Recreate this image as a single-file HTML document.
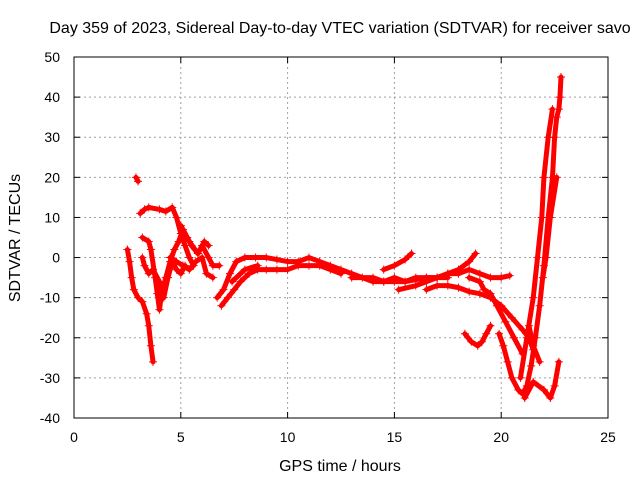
<!DOCTYPE html>
<html><head><meta charset="utf-8"><style>
body{margin:0;background:#fff}
svg text{font-family:"Liberation Sans",sans-serif;font-size:14px;fill:#000}
svg text.big{font-size:16px}
</style></head><body>
<svg id="chart" width="640" height="480" xmlns="http://www.w3.org/2000/svg">
<text class="big" x="340" y="33" text-anchor="middle">Day 359 of 2023, Sidereal Day-to-day VTEC variation (SDTVAR) for receiver savo</text>
<text class="big" x="340" y="471" text-anchor="middle">GPS time / hours</text>
<text class="big" transform="translate(20,238) rotate(-90)" text-anchor="middle">SDTVAR / TECUs</text>
<g id="grid"></g><g id="ticks"></g><g id="marks"></g>
<rect x="74" y="57" width="534" height="361" fill="none" stroke="#000"/>
</svg>
<script>
const xTicks=[0,5,10,15,20,25];
const yTicks=[50,40,30,20,10,0,-10,-20,-30,-40];
const trackNames=["t1","t2","t3","t4","t5","t6","t7","t8","t9","t10","t11","t12","t13","t14","t15","t16","t17","t18","t19","t20","t21","t22"];
const trackTimes=[
[2.5,2.6,2.7,2.8,3.0,3.2,3.4,3.5,3.6,3.7],
[2.9,3.0],
[3.1,3.3,3.5,4.0,4.3,4.6,4.8,5.0,5.2,5.4,5.6],
[3.2,3.5,3.6,3.8,3.9,4.0,4.1,4.3,4.5,4.7,4.9,5.1,5.3,5.5,5.8,6.0,6.3,6.5,6.8],
[3.2,3.3,3.5,3.7,4.0,4.2,4.4,4.6,4.8,5.0,5.2],
[4.5,4.8,5.1,5.4,5.7,6.0,6.2,6.5],
[5.0,5.4,5.8,6.1,6.3],
[6.7,7.0,7.3,7.6,8.0,8.5,9.0,9.5,10.0,10.5,11.0,11.5,12.0,12.5,13.0,13.5,14.0,14.5,15.0,15.5,16.0,16.5,17.0,17.5],
[6.9,7.2,7.5,7.8,8.2,8.6,9.0,9.5,10.0,10.5,11.0,11.5,12.0,12.5],
[7.4,8.0,8.6],
[13,14,14.5,15,15.5,16,16.5,17,17.5,18],
[14.5,15,15.5,15.8],
[15.2,16,16.5,17,17.5,18,18.5,18.8],
[16.5,17,17.5,18,18.5,19,19.5,20,20.5,21,21.3,21.5],
[18.0,18.5,19,19.5,20,20.4],
[18.5,19,19.2,19.5,19.8,20.2,20.6,21],
[18.3,18.6,18.9,19.1,19.3,19.5],
[19.9,20.1,20.3,20.5,20.8,21.0,21.2,21.4,21.6,21.8,22.0,22.2,22.4,22.5,22.6,22.7,22.75,22.8],
[21.1,21.5,22.0,22.3,22.5,22.7],
[20.9,21.2,21.5,21.7,21.9,22.0,22.2,22.4],
[22.6,22.3,22.1,21.95],
[21.3,21.5,21.8]
];
const trackValues=[
[2,-1,-5,-8,-10,-11,-14,-17,-22,-26],
[20,19],
[11,12,12.5,12,11.5,12.5,10,6,3,0,-2],
[5,4,2,-5,-9,-13,-9,-5,-1,2,4,7,5,3,1,3,0,-2,-2],
[0,-2,-4,-3,-6,-10,-5,-1,-3,-4,-2],
[0,-1,-2,-3,-1,0,-4,-5],
[8,4,1,4,3],
[-10,-8,-4,-1,0,0,0,-0.5,-1,-1,0,-1,-2,-3,-4,-5,-6,-6,-5,-6,-5,-5,-5,-5],
[-12,-10,-8,-6,-4,-3,-3,-3,-3,-2,-2,-2,-3,-4],
[-6,-3,-2],
[-5,-5,-6,-6,-6,-5.5,-5,-5,-4,-4],
[-3,-2,-0.5,1],
[-8,-7,-6,-5,-4,-3,-1,1],
[-8,-7,-7,-7.5,-8.5,-9,-10,-12,-15,-18,-20,-23],
[-4,-3,-4,-5,-5,-4.5],
[-5,-6,-8,-9,-12,-16,-20,-24],
[-19,-21,-22,-21,-19,-17],
[-19,-22,-26,-30,-33,-34,-32,-27,-20,-12,-2,10,20,30,35,37,40,45],
[-35,-31,-33,-35,-32,-26],
[-30,-20,-10,0,10,20,30,37],
[20,10,0,-5],
[-17,-22,-26]
];
const X0=74,X1=608,Y0=418,Y1=57;
const xs=v=>X0+(v-0)/(25-0)*(X1-X0);
const ys=v=>Y0-(v+40)/(50+40)*(Y0-Y1);
const NS="http://www.w3.org/2000/svg";
function mk(tag,attrs,parent){const e=document.createElementNS(NS,tag);for(const k in attrs)e.setAttribute(k,attrs[k]);parent.appendChild(e);return e;}
const grid=document.getElementById('grid'),ticks=document.getElementById('ticks'),marks=document.getElementById('marks');
xTicks.forEach(t=>{const x=xs(t);
 if(t>0&&t<25){const g=mk('line',{x1:x,x2:x,y1:Y1,y2:Y0,stroke:'#a0a0a0','stroke-dasharray':'2,3'},grid);
 
 }
 mk('line',{x1:x,x2:x,y1:Y0,y2:Y0-6,stroke:'#000'},ticks);
 mk('line',{x1:x,x2:x,y1:Y1,y2:Y1+6,stroke:'#000'},ticks);
 const l=mk('text',{x:x,y:442,'text-anchor':'middle'},ticks);l.textContent=t;
 
 
});
yTicks.forEach(t=>{const y=ys(t);
 if(t>-40&&t<50){const g=mk('line',{x1:X0,x2:X1,y1:y,y2:y,stroke:'#a0a0a0','stroke-dasharray':'2,3'},grid);
 
 }
 mk('line',{x1:X0,x2:X0+6,y1:y,y2:y,stroke:'#000'},ticks);
 mk('line',{x1:X1,x2:X1-6,y1:y,y2:y,stroke:'#000'},ticks);
 const l=mk('text',{x:60,y:y+5,'text-anchor':'end'},ticks);l.textContent=t;
 
 
});
trackTimes.forEach((tt,i)=>{
 const vv=trackValues[i];
 const pts=tt.map((t,j)=>xs(t)+','+ys(vv[j])).join(' ');
 const g=mk('g',{},marks);
 
 
 mk('polyline',{points:pts,fill:'none',stroke:'#f00','stroke-width':5,'stroke-linejoin':'round','stroke-linecap':'round'},g);
 tt.forEach((t,j)=>{const x=xs(t),y=ys(vv[j]);
  const p=mk('path',{d:`M${x-4},${y}h8M${x},${y-4}v8`,stroke:'#f00','stroke-width':1},g);
  
  
 });
});
</script>
</body></html>
